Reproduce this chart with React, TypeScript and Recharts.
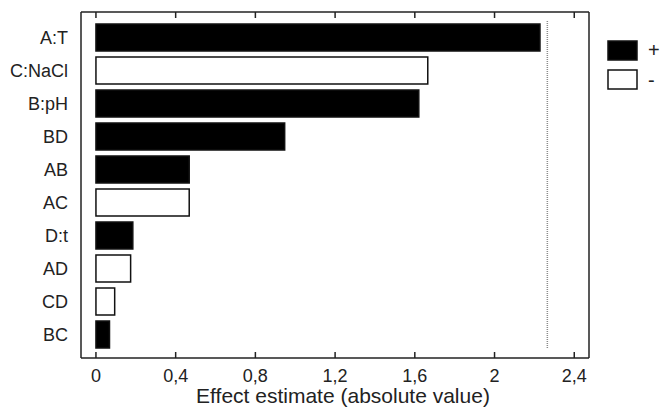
import { BarChart, Bar, Cell, XAxis, YAxis, ReferenceLine, Legend } from 'recharts'

const effects = ['A:T', 'C:NaCl', 'B:pH', 'BD', 'AB', 'AC', 'D:t', 'AD', 'CD', 'BC']
const estimates = [2.228, 1.665, 1.62, 0.947, 0.468, 0.468, 0.185, 0.174, 0.094, 0.068]
const signs = ['+', '-', '+', '+', '+', '-', '+', '-', '-', '+']
const xTicks = [0, 0.4, 0.8, 1.2, 1.6, 2, 2.4]
const criticalValue = 2.265

const INK = '#222'
const FONT = '"Liberation Sans", Arial, Helvetica, sans-serif'

const FILL: Record<string, string> = { '+': '#000', '-': '#fff' }

// dotted line that stops short of the frame at both ends
const CRIT_DASH = '0 10 ' + '1 1 '.repeat(164) + '0 40'

const data = effects.map((name, i) => ({ name, value: estimates[i], sign: signs[i] }))

function SignLegend() {
  return (
    <svg width={61} height={60} style={{ display: 'block' }}>
      {['+', '-'].map((s, i) => (
        <g key={s}>
          <rect x={8} y={5 + i * 29} width={29} height={19} fill={FILL[s]} stroke="#111" strokeWidth={1.5} />
          <text x={48} y={i === 0 ? 21 : 51} fontSize={20} fill={INK} fontFamily={FONT}>
            {s}
          </text>
        </g>
      ))}
    </svg>
  )
}

export default function App() {
  return (
    <div style={{ width: 661, height: 408, background: '#fff', fontFamily: FONT }}>
      <style>{'body{margin:0}'}</style>
      <BarChart
        width={661}
        height={408}
        data={data}
        layout="vertical"
        margin={{ top: 11, right: 71, bottom: 0, left: 0 }}
      >
        <XAxis
          type="number"
          domain={[-0.075, 2.474]}
          ticks={xTicks}
          allowDataOverflow
          height={50}
          tickSize={-6}
          tickMargin={17}
          interval={0}
          tickFormatter={(v: number) => String(v).replace('.', ',')}
          tick={{ fontSize: 18, fill: INK, fontFamily: FONT }}
          axisLine={{ stroke: INK, strokeWidth: 1.5 }}
          tickLine={{ stroke: INK, strokeWidth: 1.5 }}
          label={{
            value: 'Effect estimate (absolute value)',
            position: 'insideBottom',
            offset: 5,
            dx: 8,
            fontSize: 21,
            fill: INK,
            fontFamily: FONT,
          }}
        />
        <XAxis
          xAxisId="top"
          orientation="top"
          type="number"
          domain={[-0.075, 2.474]}
          ticks={xTicks}
          allowDataOverflow
          height={1}
          tickSize={-6}
          interval={0}
          tickFormatter={() => ''}
          axisLine={{ stroke: INK, strokeWidth: 1.5 }}
          tickLine={{ stroke: INK, strokeWidth: 1.5 }}
        />
        <YAxis
          type="category"
          dataKey="name"
          width={81}
          padding={{ top: 9, bottom: 7 }}
          tickLine={false}
          tickSize={0}
          tickMargin={13}
          interval={0}
          tick={{ fontSize: 18, fill: INK, fontFamily: FONT }}
          axisLine={{ stroke: INK, strokeWidth: 1.5 }}
        />
        <YAxis
          yAxisId="frame"
          orientation="right"
          type="number"
          domain={[0, 1]}
          allowDataOverflow
          width={1}
          tick={false}
          tickLine={false}
          axisLine={{ stroke: INK, strokeWidth: 1.5 }}
        />
        <ReferenceLine x={criticalValue} stroke="#8a8a8a" strokeWidth={1.5} strokeDasharray={CRIT_DASH} />
        <Bar dataKey="value" barSize={27} isAnimationActive={false} stroke="#111" strokeWidth={1.5}>
          {data.map((d, i) => (
            <Cell key={`cell-${i}`} fill={FILL[d.sign]} />
          ))}
        </Bar>
        <Legend
          layout="vertical"
          align="center"
          verticalAlign="middle"
          wrapperStyle={{ left: 600, top: 36, width: 61, height: 60 }}
          content={() => <SignLegend />}
        />
      </BarChart>
    </div>
  )
}
